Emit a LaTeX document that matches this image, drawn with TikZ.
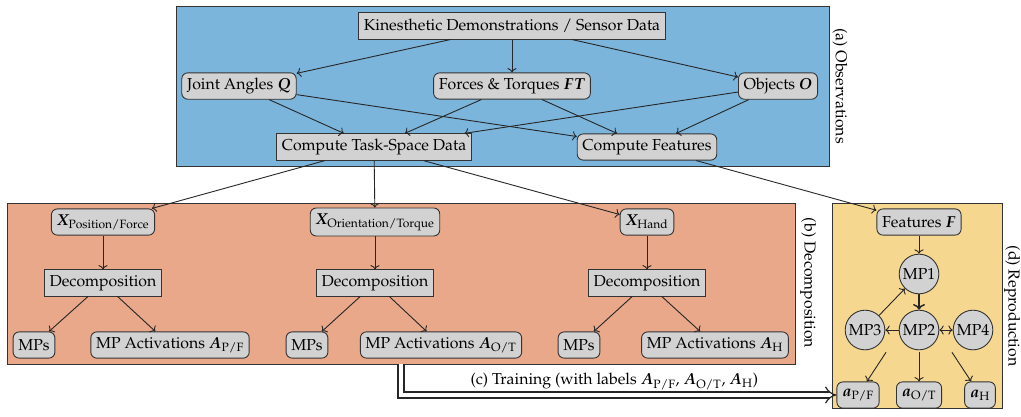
\documentclass[tikz,border=0pt]{standalone}
\usepackage[T1]{fontenc}
\usepackage{mathpazo}
\usepackage{bm}
\usetikzlibrary{arrows.meta,fit,backgrounds}
\definecolor{obsblue}{RGB}{123,181,220}
\definecolor{decsalmon}{RGB}{234,168,138}
\definecolor{repyellow}{RGB}{246,215,144}
\definecolor{mpnetfill}{RGB}{224,190,112}
\definecolor{nodegray}{RGB}{210,210,210}
\tikzset{
	every node/.style={font=\fontsize{10.6}{12.7}\selectfont},
	box/.style={draw=black!80,line width=0.6pt,fill=nodegray,minimum height=17.5pt,inner sep=3.5pt},
	rbox/.style={box,rounded corners=4pt},
	mpcircle/.style={circle,draw=black!80,line width=0.6pt,fill=nodegray,minimum size=26.5pt,inner sep=0pt},
	panel/.style={draw=black!80,line width=0.6pt},
	flow/.style={->,draw=black!85,line width=0.6pt},
	sidelabel/.style={rotate=-90,inner sep=1pt},
	train/.style={double=white,double distance=3.2pt,line width=0.8pt,draw=black!85,-{Implies[scale=1.4]}}
}
\begin{document}
\begin{tikzpicture}[x=0.0235cm,y=-0.0235cm]
	\useasboundingbox (0,0) rectangle (1021,416);
	\draw[panel,fill=obsblue] (176,6) rectangle (829,166);
	\draw[panel,fill=decsalmon] (7,203) rectangle (795,364);
	\draw[panel,fill=repyellow] (832,203) rectangle (1002,408);
	\node[sidelabel] at (840,86) {(a) Observations};
	\node[sidelabel] at (808,283) {(b) Decomposition};
	\node[sidelabel] at (1012,306) {(d) Reproduction};
	\node[box] (kin) at (512,26) {Kinesthetic Demonstrations / Sensor Data};
	\node[rbox] (joint) at (239,86) {Joint Angles $\bm{Q}$};
	\node[rbox] (ft) at (512,86) {Forces \& Torques $\bm{FT}$};
	\node[rbox] (obj) at (778,86) {Objects $\bm{O}$};
	\node[box] (ctsd) at (374,147) {Compute Task-Space Data};
	\node[rbox] (cf) at (647,147) {Compute Features};
	\node[rbox] (xpf) at (103,222) {$\bm{X}_{\mathrm{Position/Force}}$};
	\node[rbox] (xot) at (375,222) {$\bm{X}_{\mathrm{Orientation/Torque}}$};
	\node[rbox] (xh) at (647,222) {$\bm{X}_{\mathrm{Hand}}$};
	\node[box] (decpf) at (103,283) {Decomposition};
	\node[box] (decot) at (375,283) {Decomposition};
	\node[box] (dech) at (647,283) {Decomposition};
	\node[rbox] (mpspf) at (34,345) {MPs};
	\node[rbox] (actpf) at (170,345) {MP Activations $\bm{A}_{\mathrm{P/F}}$};
	\node[rbox] (mpsot) at (307,345) {MPs};
	\node[rbox] (actot) at (441,345) {MP Activations $\bm{A}_{\mathrm{O/T}}$};
	\node[rbox] (mpsh) at (579,345) {MPs};
	\node[rbox] (acth) at (715,345) {MP Activations $\bm{A}_{\mathrm{H}}$};
	\node[rbox] (feat) at (919,222) {Features $\bm{F}$};
	\node[mpcircle] (mp1) at (919,274) {MP1};
	\node[mpcircle] (mp2) at (919,330) {MP2};
	\node[mpcircle] (mp3) at (865,330) {MP3};
	\node[mpcircle] (mp4) at (973,330) {MP4};
	\begin{scope}[on background layer]
		\node[draw=black!35!mpnetfill,line width=0.6pt,fill=mpnetfill,inner sep=1pt,fit=(mp1)(mp2)(mp3)(mp4)] (mpnet) {};
	\end{scope}
	\node[rbox] (apf) at (858,395) {$\bm{a}_{\mathrm{P/F}}$};
	\node[rbox] (aot) at (919,395) {$\bm{a}_{\mathrm{O/T}}$};
	\node[rbox] (ah) at (980,395) {$\bm{a}_{\mathrm{H}}$};
	\coordinate (trainstart) at (401,364);
	\draw[flow] (kin) -- (joint);
	\draw[flow] (kin) -- (ft);
	\draw[flow] (kin) -- (obj);
	\draw[flow] (joint) -- (ctsd);
	\draw[flow] (joint) -- (cf);
	\draw[flow] (ft) -- (ctsd);
	\draw[flow] (ft) -- (cf);
	\draw[flow] (obj) -- (ctsd);
	\draw[flow] (obj) -- (cf);
	\draw[flow] (ctsd) -- (xpf);
	\draw[flow] (ctsd) -- (xot);
	\draw[flow] (ctsd) -- (xh);
	\draw[flow] (cf) -- (feat);
	\draw[flow] (xpf) -- (decpf);
	\draw[flow] (xot) -- (decot);
	\draw[flow] (xh) -- (dech);
	\draw[flow] (decpf) -- (mpspf);
	\draw[flow] (decpf) -- (actpf);
	\draw[flow] (decot) -- (mpsot);
	\draw[flow] (decot) -- (actot);
	\draw[flow] (dech) -- (mpsh);
	\draw[flow] (dech) -- (acth);
	\draw[flow] (feat) -- (mp1);
	\draw[flow,line width=1pt] (mp1) -- (mp2);
	\draw[flow] (mp3) -- (mp1);
	\draw[flow] (mp2) -- (mp3);
	\draw[flow,<->] (mp2) -- (mp4);
	\draw[flow] (mpnet) -- (apf);
	\draw[flow] (mpnet) -- (aot);
	\draw[flow] (mpnet) -- (ah);
	\draw[train] (trainstart) |- (apf.west) node[pos=0.745,above=0pt] {(c) Training (with labels $\bm{A}_{\mathrm{P/F}}$, $\bm{A}_{\mathrm{O/T}}$, $\bm{A}_{\mathrm{H}}$)};
\end{tikzpicture}
\end{document}
